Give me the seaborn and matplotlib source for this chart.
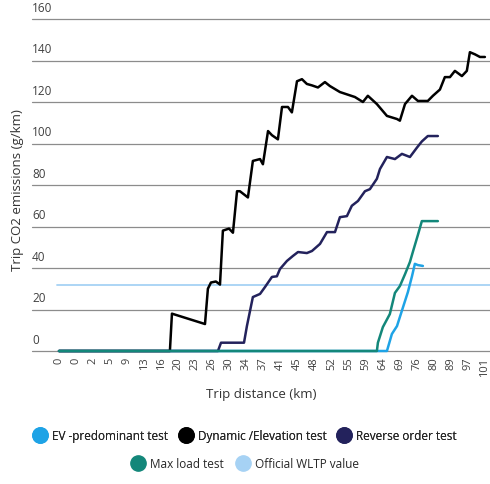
import matplotlib
matplotlib.use("Agg")
import matplotlib.pyplot as plt
import seaborn as sns
from matplotlib.lines import Line2D

# x positions are in tick-index units along the categorical distance axis
tick_labels = ["0", "0", "2", "5", "9", "13", "16", "20", "23", "26", "30", "34", "37",
               "41", "45", "48", "52", "55", "59", "64", "69", "76", "80", "89", "97", "101"]

dyn_x = [0, 6.51, 6.63, 8.57, 8.74, 8.92, 9.21, 9.45, 9.62, 9.98, 10.21, 10.45, 10.62, 11.09,
         11.38, 11.80, 11.97, 12.27, 12.5, 12.85, 13.09, 13.44, 13.67, 13.97, 14.26, 14.55,
         14.85, 15.2, 15.61, 15.9, 16.49, 17.37, 17.84, 18.13, 18.66, 19.25, 19.84, 20.01,
         20.31, 20.72, 21.07, 21.65, 21.95, 22.36, 22.65, 22.95, 23.24, 23.65, 23.94, 24.12,
         24.41, 24.71, 25.0]
dyn_y = [0, 0, 18, 13, 30, 33, 33.5, 32, 58, 59, 57, 77, 77, 74,
         91.6, 92.5, 90, 106, 104, 102, 117.6, 117.6, 115, 130, 131, 128.7,
         128, 127, 129.6, 127.7, 124.8, 122.4, 120, 123, 119, 113.3, 111.8, 111,
         119, 123, 120.5, 120.5, 123, 126, 132, 132, 135, 132.5, 135, 144,
         143, 141.7, 141.7]

rev_x = [0, 9.33, 9.51, 10.86, 11.03, 11.38, 11.8, 12.09, 12.5, 12.79, 12.97, 13.38, 13.73,
         14.03, 14.55, 14.85, 15.32, 15.73, 16.2, 16.49, 16.9, 17.19, 17.55, 17.96, 18.25,
         18.66, 18.84, 19.25, 19.72, 20.13, 20.6, 21.01, 21.3, 21.65, 22.24]
rev_y = [0, 0, 4, 4, 12, 26, 27.5, 30.8, 35.7, 36, 39.5, 43.4, 45.8,
         47.7, 47.2, 48.2, 51.6, 57.3, 57.3, 64.5, 65, 70, 72.3, 77, 78,
         83, 87.7, 93.5, 92.5, 95, 93.5, 98, 101, 103.6, 103.6]

load_x = [0, 18.66, 18.72, 19.01, 19.42, 19.72, 20.01, 20.31, 20.6, 20.77, 21.07, 21.3, 21.65, 22.24]
load_y = [0, 0, 4, 11.5, 17.8, 28, 31.3, 37, 42.9, 47.7, 56, 62.6, 62.6, 62.6]

ev_x = [0, 19.25, 19.54, 19.84, 20.19, 20.48, 20.72, 20.89, 21.07, 21.36]
ev_y = [0, 0, 8.2, 12, 21, 28.4, 36, 42, 41.4, 41]

wltp_value = 32
y_ticks = [0, 20, 40, 60, 80, 100, 120, 140, 160]

series = ["EV -predominant test", "Dynamic /Elevation test", "Reverse order test",
          "Max load test", "Official WLTP value"]
colors = ["#1ea3e6", "#000000", "#23225c", "#13877a", "#a6d2f4"]

sns.set_theme(style="white")
plt.rcParams["font.family"] = ["Open Sans", "DejaVu Sans"]

fig = plt.figure(figsize=(4.9, 4.85), dpi=100)
ax = fig.add_axes([32 / 490, 1 - 352 / 485, 458 / 490, 332 / 485])
ax.set_xlim(-1.585, 25.3)
ax.set_ylim(0, 160)

for t in y_ticks:
    ax.axhline(t, color="#8c8c8c", lw=0.9, zorder=1, clip_on=False)
    ax.text(0.0, t + 2.5, str(t), transform=ax.get_yaxis_transform(), ha="left",
            va="bottom", fontsize=8.5, color="#404040")

ax.axhline(wltp_value, xmin=(57 - 32) / 458, xmax=1, color=colors[4], lw=1.3, zorder=2)

lw = 1.8
sns.lineplot(x=ev_x, y=ev_y, sort=False, estimator=None, color=colors[0], lw=lw, ax=ax, zorder=3)
sns.lineplot(x=dyn_x, y=dyn_y, sort=False, estimator=None, color=colors[1], lw=lw, ax=ax, zorder=4)
sns.lineplot(x=rev_x, y=rev_y, sort=False, estimator=None, color=colors[2], lw=lw, ax=ax, zorder=5)
sns.lineplot(x=load_x, y=load_y, sort=False, estimator=None, color=colors[3], lw=lw, ax=ax, zorder=6)
for ln in ax.lines:
    ln.set_clip_on(False)

ax.set_xticks(range(len(tick_labels)))
ax.set_xticklabels(tick_labels, rotation=90, fontsize=8, color="#404040")
ax.set_yticks([])
ax.tick_params(axis="x", length=0, pad=4)
for s in ax.spines.values():
    s.set_visible(False)

ax.set_xlabel("Trip distance (km)", fontsize=9.5, color="#333333", labelpad=8)
fig.text(18 / 490, 1 - 190 / 485, "Trip CO2 emissions (g/km)", rotation=90,
         ha="center", va="center", fontsize=9.5, color="#333333")

handles = [Line2D([], [], marker="o", ls="", markersize=11, color=c) for c in colors]
leg1 = fig.legend(handles[:3], series[:3], loc="center", bbox_to_anchor=(0.5, 1 - 437 / 485),
                  ncol=3, frameon=False, fontsize=8.5, handletextpad=0.4, columnspacing=0.9,
                  handlelength=1.2)
fig.legend(handles[3:], series[3:], loc="center", bbox_to_anchor=(0.5, 1 - 465 / 485),
           ncol=2, frameon=False, fontsize=8.5, handletextpad=0.4, columnspacing=1.0,
           handlelength=1.2)
fig.add_artist(leg1)

fig.savefig("out.png", dpi=100)
